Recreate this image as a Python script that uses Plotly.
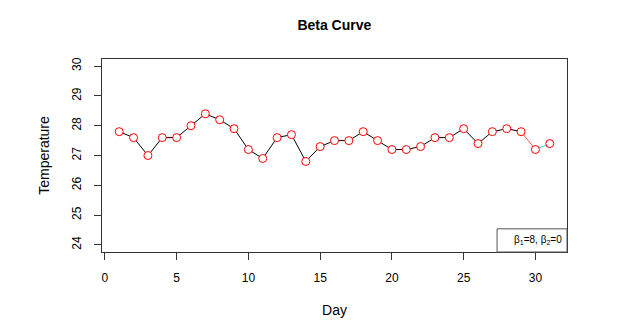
import plotly.graph_objects as go

days = list(range(1, 32))
temps = [27.8, 27.6, 27.0, 27.6, 27.6, 28.0, 28.4, 28.2, 27.9, 27.2,
         26.9, 27.6, 27.7, 26.8, 27.3, 27.5, 27.5, 27.8, 27.5, 27.2,
         27.2, 27.3, 27.6, 27.6, 27.9, 27.4, 27.8, 27.9, 27.8, 27.2, 27.4]
x_ticks = [0, 5, 10, 15, 20, 25, 30]
y_ticks = [24, 25, 26, 27, 28, 29, 30]
title = "Beta Curve"
legend_text = "β<sub>1</sub>=8, β<sub>2</sub>=0"

font = "Liberation Sans, Arial, sans-serif"
fig = go.Figure()
# main black line (days 1-29)
fig.add_trace(go.Scatter(x=days[:29], y=temps[:29], mode="lines",
                         line=dict(color="black", width=1), showlegend=False))
# red segment 29-30
fig.add_trace(go.Scatter(x=days[28:30], y=temps[28:30], mode="lines",
                         line=dict(color="#ff5050", width=1), showlegend=False))
# cyan segment 30-31
fig.add_trace(go.Scatter(x=days[29:31], y=temps[29:31], mode="lines",
                         line=dict(color="#22dddd", width=1), showlegend=False))
# points
fig.add_trace(go.Scatter(x=days, y=temps, mode="markers",
                         marker=dict(symbol="circle", size=8, color="white",
                                     line=dict(color="red", width=1)),
                         showlegend=False))

fig.add_shape(type="rect", xref="paper", yref="paper", x0=0.8496, x1=1.0,
              y0=0.0, y1=0.12, line=dict(color="#555555", width=1),
              fillcolor="white")
fig.add_annotation(xref="paper", yref="paper", x=0.938, y=0.06, text=legend_text,
                   showarrow=False, font=dict(family=font, size=10, color="black"),
                   xanchor="center", yanchor="middle")

fig.update_layout(
    width=638, height=329,
    margin=dict(l=102, r=71, t=59, b=77),
    paper_bgcolor="white", plot_bgcolor="white",
    font=dict(family=font, size=12, color="black"),
    title=dict(text="<b>" + title + "</b>", x=(101.7 + 567) / 2 / 638, xanchor="center",
               y=1 - 25 / 329, yanchor="middle", font=dict(size=14, family=font)),
    xaxis=dict(range=[-0.2, 32.2], tickvals=x_ticks, ticks="outside", ticklen=7,
               tickcolor="#333333", showline=True, linecolor="#333333", linewidth=1,
               mirror=True, showgrid=False, zeroline=False, automargin=False,
               title=dict(text="Day", standoff=20), ticklabelstandoff=8),
    yaxis=dict(range=[23.76, 30.24], tickvals=y_ticks, ticks="outside", ticklen=7,
               tickcolor="#333333", showline=True, linecolor="#333333", linewidth=1,
               mirror=True, showgrid=False, zeroline=False, tickangle=-90,
               automargin=False,
               title=dict(text="Temperature", standoff=17), ticklabelstandoff=8),
)
fig.write_html("out.html", config={"displayModeBar": False},
               post_script="document.body.style.margin='0';document.body.style.padding='0';")
